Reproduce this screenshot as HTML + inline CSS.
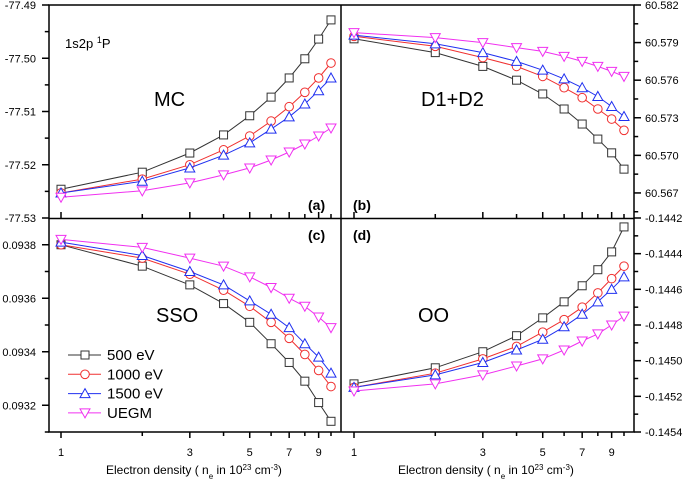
<!DOCTYPE html>
<html><head><meta charset="utf-8"><style>
body{margin:0;background:#fff}
svg{display:block;font-family:"Liberation Sans",Arial,sans-serif}
</style></head><body>
<svg id="c" width="685" height="481" viewBox="0 0 685 481"></svg>
<script>
const xs=[1,2,3,4,5,6,7,8,9,10];
const seriesNames=['500 eV','1000 eV','1500 eV','UEGM'];
const aBlack=[-77.5246,-77.5214,-77.5178,-77.5144,-77.5108,-77.5073,-77.5037,-77.5001,-77.4964,-77.4928];
const aRed=[-77.5253,-77.5227,-77.5200,-77.5172,-77.5146,-77.5118,-77.5091,-77.5064,-77.5037,-77.5009];
const aBlue=[-77.5253,-77.5231,-77.5206,-77.5182,-77.5159,-77.5133,-77.5110,-77.5086,-77.5061,-77.5037];
const aMag=[-77.5261,-77.5249,-77.5234,-77.5219,-77.5206,-77.5191,-77.5176,-77.5161,-77.5146,-77.5131];
const bBlack=[60.5793,60.5782,60.5771,60.5760,60.5749,60.5737,60.5725,60.5713,60.5702,60.5689];
const bRed=[60.5795,60.5787,60.5778,60.5771,60.5763,60.5754,60.5746,60.5737,60.5729,60.5720];
const bBlue=[60.5796,60.5789,60.5782,60.5775,60.5768,60.5761,60.5754,60.5747,60.5739,60.5731];
const bMag=[60.5798,60.5794,60.5790,60.5786,60.5783,60.5779,60.5775,60.5771,60.5767,60.5763];
const cBlack=[0.09380,0.09372,0.09365,0.09358,0.09351,0.09343,0.09336,0.09329,0.09321,0.09314];
const cRed=[0.09380,0.09375,0.09369,0.09363,0.09357,0.09351,0.09345,0.09339,0.09333,0.09327];
const cBlue=[0.09381,0.09376,0.09370,0.09365,0.09359,0.09354,0.09349,0.09343,0.09338,0.09332];
const cMag=[0.09382,0.09379,0.09375,0.09372,0.09368,0.09364,0.09360,0.09357,0.09353,0.09349];
const dBlack=[-0.14513,-0.14504,-0.14495,-0.14486,-0.14476,-0.14467,-0.14458,-0.14449,-0.14439,-0.14425];
const dRed=[-0.14515,-0.14507,-0.14499,-0.14492,-0.14484,-0.14477,-0.14470,-0.14462,-0.14454,-0.14447];
const dBlue=[-0.14515,-0.14508,-0.14501,-0.14494,-0.14488,-0.14481,-0.14474,-0.14467,-0.14460,-0.14453];
const dMag=[-0.14517,-0.14513,-0.14508,-0.14503,-0.14499,-0.14494,-0.14489,-0.14485,-0.14480,-0.14475];
const aTicks=['-77.49','-77.50','-77.51','-77.52','-77.53'];
const bTicks=['60.582','60.579','60.576','60.573','60.570','60.567'];
const cTicks=['0.0938','0.0936','0.0934','0.0932'];
const dTicks=['-0.1442','-0.1444','-0.1446','-0.1448','-0.1450','-0.1452','-0.1454'];
const xTickLabels=['1','3','5','7','9'];

const svg=document.getElementById('c');
const NS='http://www.w3.org/2000/svg';
function mk(t,a,p){const e=document.createElementNS(NS,t);for(const k in a)e.setAttribute(k,a[k]);(p||svg).appendChild(e);return e;}
const colors=['#333','#f03030','#2030f0','#f030f0'];
const marks=['sq','ci','tu','td'];
const panels=[
 {id:'a',x0:61,top:5,bot:218,ymin:-77.53,ymax:-77.49,data:[aBlack,aRed,aBlue,aMag]},
 {id:'b',x0:354,top:5,bot:218,ymin:60.565,ymax:60.582,data:[bBlack,bRed,bBlue,bMag]},
 {id:'c',x0:61,top:218,bot:432,ymin:0.0931,ymax:0.0939,data:[cBlack,cRed,cBlue,cMag]},
 {id:'d',x0:354,top:218,bot:432,ymin:-0.1454,ymax:-0.1442,data:[dBlack,dRed,dBlue,dMag]}];
function xp(p,v){return p.x0+270*Math.log10(v);}
function yp(p,v){return p.bot-(v-p.ymin)/(p.ymax-p.ymin)*(p.bot-p.top);}
function marker(g,type,x,y,col){
 let e;
 if(type==='sq')e=mk('rect',{x:x-4,y:y-4,width:8,height:8},g);
 else if(type==='ci')e=mk('circle',{cx:x,cy:y,r:4.3},g);
 else if(type==='tu')e=mk('path',{d:`M${x} ${y-5}L${x+5} ${y+4}L${x-5} ${y+4}Z`},g);
 else e=mk('path',{d:`M${x} ${y+5}L${x+5} ${y-4}L${x-5} ${y-4}Z`},g);
 e.setAttribute('fill','#fff');e.setAttribute('stroke',col);e.setAttribute('stroke-width','1');
 
 
 return e;}
panels.forEach(p=>{
 const g=mk('g',{});
 
 
 p.data.forEach((arr,si)=>{
  const pts=arr.map((v,i)=>xp(p,xs[i]).toFixed(1)+','+yp(p,v).toFixed(1)).join(' ');
  const l=mk('polyline',{points:pts,fill:'none',stroke:colors[si],'stroke-width':1},g);
  
  
  arr.forEach((v,i)=>marker(g,marks[si],xp(p,xs[i]),yp(p,v),colors[si]));
 });
});
const ax=mk('g',{stroke:'#000','stroke-width':1.5,fill:'none'});


mk('rect',{x:49,y:5,width:585,height:427},ax);
mk('line',{x1:341,y1:5,x2:341,y2:432},ax);
mk('line',{x1:49,y1:218.5,x2:634,y2:218.5},ax);
[61,354].forEach(x0=>{
 for(let v=1;v<=10;v++){const x=x0+270*Math.log10(v);const L=(v%2===1)?6:4;
  mk('line',{x1:x,y1:218,x2:x,y2:218-L},ax);
  mk('line',{x1:x,y1:432,x2:x,y2:432+L},ax);}
});
const tt=mk('g',{'font-size':11,fill:'#000'});


[1,3,5,7,9].forEach((v,i)=>{[61,354].forEach(x0=>{const t=mk('text',{x:x0+270*Math.log10(v),y:456,'text-anchor':'middle'},tt);t.textContent=xTickLabels[i];});});
function yt(p,start,labels,step,side){
 labels.forEach((lab,i)=>{const v=start-i*step;const y=yp(p,v);
  const x=side==='l'?49:634,d=side==='l'?-7:7;
  mk('line',{x1:x,y1:y,x2:x+d,y2:y},ax);
  const ym=yp(p,v-step/2);if(ym<=p.bot+0.5&&ym>=p.top-0.5)mk('line',{x1:x,y1:ym,x2:x+d*0.6,y2:ym},ax);
  const t=mk('text',{x:side==='l'?36:645,y:y+4,'text-anchor':side==='l'?'end':'start'},tt);t.textContent=lab;
 });}
yt(panels[0],-77.49,aTicks,0.01,'l');
yt(panels[1],60.582,bTicks,0.003,'r');
yt(panels[2],0.0938,cTicks,0.0002,'l');
yt(panels[3],-0.1442,dTicks,0.0002,'r');
function tx(x,y,s,sz,extra,name){const t=mk('text',Object.assign({x:x,y:y,'font-size':sz},extra||{}));t.innerHTML=s;return t;}
tx(65,48,'1s2p <tspan baseline-shift="super" font-size="9">1</tspan>P',13,{},'state-label');
tx(154,106,'MC',20,{},'panel-a-title');
tx(421,106,'D1+D2',20,{},'panel-b-title');
tx(156,322,'SSO',20,{},'panel-c-title');
tx(418,322,'OO',20,{},'panel-d-title');
tx(308,210,'(a)',14,{'font-weight':'bold'},'panel-a-label');
tx(353,210,'(b)',14,{'font-weight':'bold'},'panel-b-label');
tx(308,240,'(c)',14,{'font-weight':'bold'},'panel-c-label');
tx(353,240,'(d)',14,{'font-weight':'bold'},'panel-d-label');
const xt='Electron density ( n<tspan baseline-shift="sub" font-size="8">e</tspan> in 10<tspan baseline-shift="super" font-size="8">23</tspan> cm<tspan baseline-shift="super" font-size="8">-3</tspan>)';
tx(106,474,xt,12,{},'x-axis-title-left');
tx(398,474,xt,12,{},'x-axis-title-right');
seriesNames.forEach((n,i)=>{const y=355+i*19.3;const g=mk('g',{});
 
 
 mk('line',{x1:68,y1:y,x2:101,y2:y,stroke:colors[i],'stroke-width':1},g);
 marker(g,marks[i],85,y,colors[i]);
 const t=mk('text',{x:107,y:y+5,'font-size':15},g);t.textContent=n;});
</script>
</body></html>
